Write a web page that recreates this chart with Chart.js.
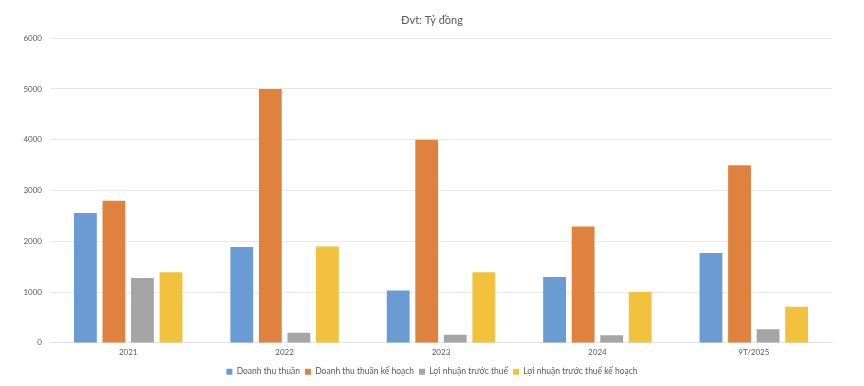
<!DOCTYPE html>
<html>
<head>
<meta charset="utf-8">
<script src="https://cdn.jsdelivr.net/npm/chart.js@4/dist/chart.umd.min.js"></script>
<style>
html,body{margin:0;padding:0;background:#fff;}
#wrap{width:864px;height:386px;position:relative;}
</style>
</head>
<body>
<div id="wrap"><canvas id="c" width="864" height="386"></canvas></div>
<script>
const categories = ["2021", "2022", "2023", "2024", "9T/2025"];
const doanhThuThuan = [2560, 1890, 1030, 1300, 1770];
const doanhThuKeHoach = [2800, 5000, 4000, 2290, 3500];
const loiNhuanTruocThue = [1280, 200, 160, 150, 270];
const loiNhuanKeHoach = [1390, 1900, 1390, 1000, 710];
const yTicks = [0, 1000, 2000, 3000, 4000, 5000, 6000];
const seriesNames = ["Doanh thu thuần", "Doanh thu thuần kế hoạch", "Lợi nhuận trước thuế", "Lợi nhuận trước thuế kế hoạch"];
const colors = ["#6a9bd2", "#e0823f", "#a5a5a5", "#f2c23e"];

const values = [doanhThuThuan, doanhThuKeHoach, loiNhuanTruocThue, loiNhuanKeHoach];
const FONT = "Lato, 'Open Sans', sans-serif";

new Chart(document.getElementById('c'), {
  type: 'bar',
  data: {
    labels: categories,
    datasets: seriesNames.map((n, i) => ({
      label: n,
      data: values[i],
      backgroundColor: colors[i],
      borderWidth: 0,
      barPercentage: 0.8,
      categoryPercentage: 0.73,
      yAxisID: 'y'
    }))
  },
  options: {
    responsive: false,
    animation: false,
    layout: { padding: { left: 0, right: 0, top: 8, bottom: 0 } },
    plugins: {
      title: {
        display: true,
        text: "Đvt: Tỷ đồng",
        color: "#595959",
        font: { family: FONT, size: 11, weight: 'normal' },
        padding: { top: 6, bottom: 11 }
      },
      legend: {
        position: 'bottom',
        labels: {
          boxWidth: 6, boxHeight: 6,
          color: "#595959",
          font: { family: FONT, size: 8.5 },
          padding: 5
        }
      },
      tooltip: { enabled: false }
    },
    scales: {
      x: {
        grid: { display: false, drawTicks: false, tickLength: 0 },
        border: { display: true, color: "#e3e3e3" },
        ticks: { color: "#595959", font: { family: FONT, size: 8 }, padding: 5 }
      },
      y: {
        min: 0, max: 6000,
        afterBuildTicks: s => { s.ticks = yTicks.map(v => ({ value: v })); },
        afterFit: s => { s.width = 50; },
        grid: { color: "#e8e8e8", drawTicks: false },
        border: { display: false },
        ticks: { color: "#595959", font: { family: FONT, size: 8 }, padding: 8, callback: v => String(v) }
      },
      ySpacer: {
        position: 'right',
        min: 0, max: 6000,
        afterFit: s => { s.width = 32; },
        grid: { display: false, drawTicks: false },
        border: { display: false },
        ticks: { display: false }
      }
    }
  }
});
</script>
</body>
</html>
